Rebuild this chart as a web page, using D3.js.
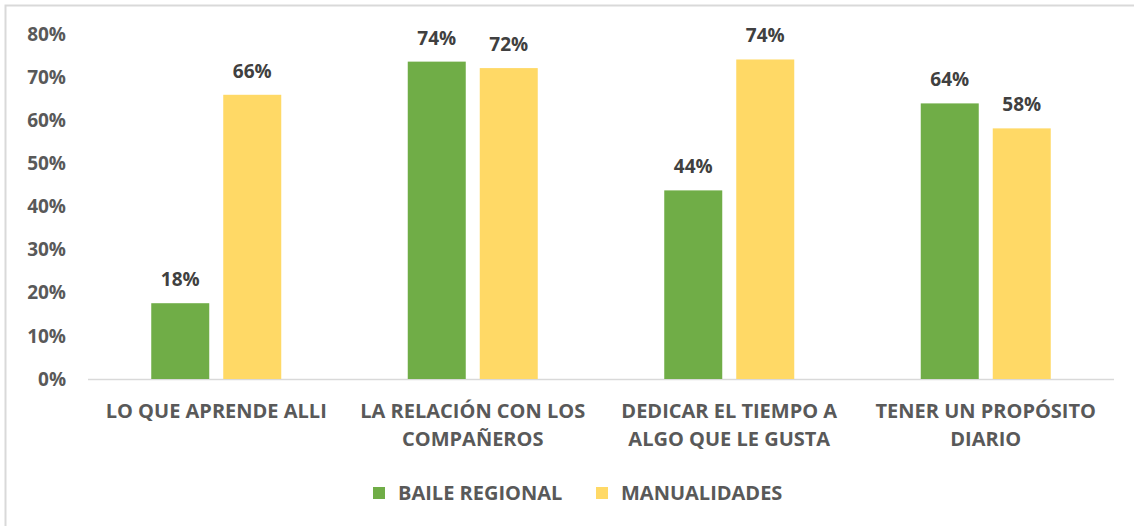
<!DOCTYPE html>
<html>
<head>
<meta charset="utf-8">
<script src="https://cdn.jsdelivr.net/npm/d3@7"></script>
<style>
  html, body { margin: 0; padding: 0; background: #fff; overflow: hidden; }
  svg { display: block; font-family: "Open Sans", "Noto Sans", sans-serif; font-weight: bold; }
</style>
</head>
<body>
<svg id="chart" width="1134" height="526"></svg>
<script>
// 数据
const categories = [
  ['LO QUE APRENDE ALLI'],
  ['LA RELACIÓN CON LOS', 'COMPAÑEROS'],
  ['DEDICAR EL TIEMPO A', 'ALGO QUE LE GUSTA'],
  ['TENER UN PROPÓSITO', 'DIARIO']
];
const seriesNames = ['BAILE REGIONAL', 'MANUALIDADES'];
const baileRegional = [0.176, 0.737, 0.438, 0.64];
const manualidades = [0.66, 0.722, 0.742, 0.582];
const yTicks = [0, 0.1, 0.2, 0.3, 0.4, 0.5, 0.6, 0.7, 0.8];

// 样式
const colors = ['#70AD47', '#FFD966'];
const textColor = '#595959';
const labelColor = '#404040';

const svg = d3.select('#chart');

// 外框（只露出左、上两边）
svg.append('rect')
  .attr('x', 5.5).attr('y', 5.5)
  .attr('width', 1200).attr('height', 600)
  .attr('fill', 'none')
  .attr('stroke', '#d9d9d9')
  .attr('stroke-width', 2);

const plot = { left: 88, right: 1114, top: 34.5, bottom: 379 };

const x = d3.scaleBand()
  .domain(d3.range(categories.length))
  .range([plot.left, plot.right]);

const y = d3.scaleLinear()
  .domain([0, 0.8])
  .range([plot.bottom, plot.top]);

const barW = 58, gap = 14;

// Y 轴
const yAxis = svg.append('g')
  .attr('transform', `translate(${plot.left},0)`)
  .call(d3.axisLeft(y).tickValues(yTicks).tickFormat(d3.format('.0%')).tickSize(0).tickPadding(22));
yAxis.select('.domain').remove();
yAxis.selectAll('text')
  .attr('fill', textColor)
  .style('font-size', '19px')
  .style('font-family', '"Open Sans", sans-serif')
  .style('font-weight', 'bold');

// 基线
svg.append('line')
  .attr('x1', plot.left).attr('x2', plot.right)
  .attr('y1', plot.bottom + 0.5).attr('y2', plot.bottom + 0.5)
  .attr('stroke', '#d9d9d9').attr('stroke-width', 1.5);

// 柱子
const series = [baileRegional, manualidades];
series.forEach((vals, si) => {
  const g = svg.append('g');
  const bx = i => x(i) + x.bandwidth() / 2 + (si === 0 ? -(gap / 2 + barW) : gap / 2);
  g.selectAll('rect')
    .data(vals)
    .enter().append('rect')
    .attr('x', (d, i) => bx(i))
    .attr('y', d => y(d))
    .attr('width', barW)
    .attr('height', d => plot.bottom - y(d))
    .attr('fill', colors[si]);

  g.selectAll('text')
    .data(vals)
    .enter().append('text')
    .attr('x', (d, i) => bx(i) + barW / 2)
    .attr('y', d => y(d) - 17)
    .attr('text-anchor', 'middle')
    .attr('fill', labelColor)
    .style('font-size', '19px')
    .text(d => Math.round(d * 100) + '%');
});

// 分类标签
const catG = svg.append('g');
categories.forEach((lines, i) => {
  const t = catG.append('text')
    .attr('x', x(i) + x.bandwidth() / 2)
    .attr('y', 418)
    .attr('text-anchor', 'middle')
    .attr('fill', textColor)
    .style('font-size', '20px');
  lines.forEach((ln, j) => {
    t.append('tspan')
      .attr('x', x(i) + x.bandwidth() / 2)
      .attr('dy', j === 0 ? 0 : 28)
      .text(ln);
  });
});

// 图例
const legendX = [373, 596];
const legend = svg.append('g');
seriesNames.forEach((name, i) => {
  legend.append('rect')
    .attr('x', legendX[i]).attr('y', 487)
    .attr('width', 12).attr('height', 12)
    .attr('fill', colors[i]);
  legend.append('text')
    .attr('x', legendX[i] + 25).attr('y', 500)
    .attr('fill', textColor)
    .style('font-size', '20px')
    .text(name);
});
</script>
</body>
</html>
